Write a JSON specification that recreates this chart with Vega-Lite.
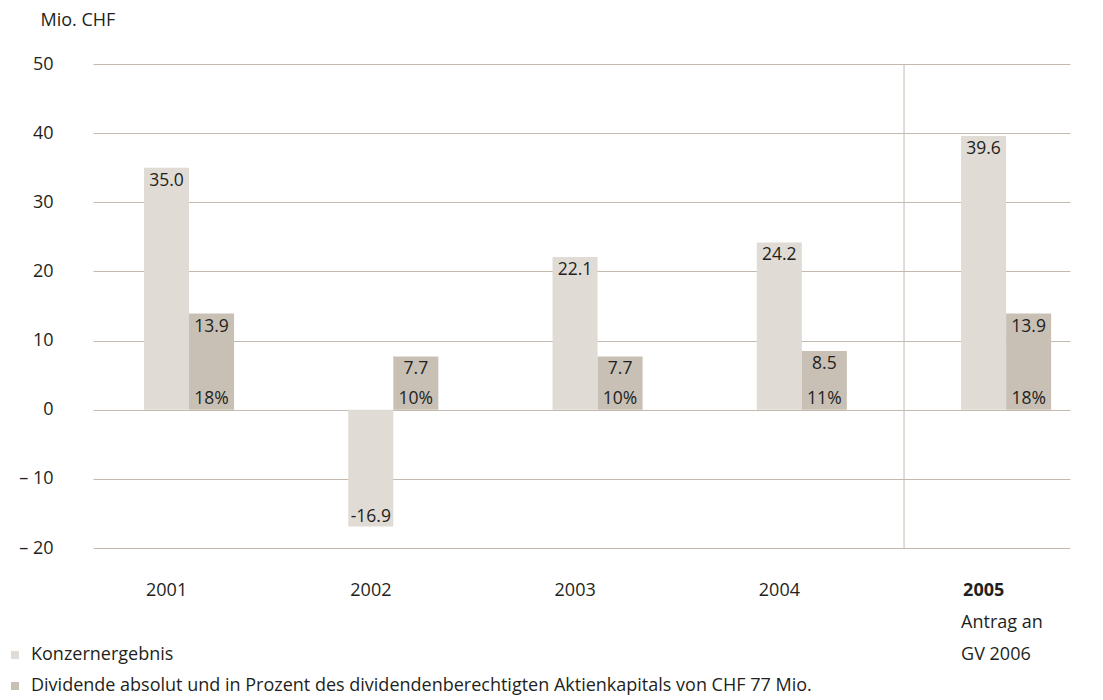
{
  "$schema": "https://vega.github.io/schema/vega-lite/v6.json",
  "width": 977,
  "height": 484,
  "autosize": {"type": "none"},
  "padding": {"left": 93, "top": 64, "right": 33, "bottom": 152},
  "background": "white",
  "config": {
    "view": {"stroke": null},
    "font": "Open Sans",
    "text": {"font": "Open Sans", "fontSize": 17.5, "color": "#231f20"}
  },
  "datasets": {
    "bars": [
      {"year": "2001", "series": "Konzernergebnis", "value": 35.0, "pct": null},
      {"year": "2001", "series": "Dividende absolut und in Prozent des dividendenberechtigten Aktienkapitals von CHF 77 Mio.", "value": 13.9, "pct": "18%"},
      {"year": "2002", "series": "Konzernergebnis", "value": -16.9, "pct": null},
      {"year": "2002", "series": "Dividende absolut und in Prozent des dividendenberechtigten Aktienkapitals von CHF 77 Mio.", "value": 7.7, "pct": "10%"},
      {"year": "2003", "series": "Konzernergebnis", "value": 22.1, "pct": null},
      {"year": "2003", "series": "Dividende absolut und in Prozent des dividendenberechtigten Aktienkapitals von CHF 77 Mio.", "value": 7.7, "pct": "10%"},
      {"year": "2004", "series": "Konzernergebnis", "value": 24.2, "pct": null},
      {"year": "2004", "series": "Dividende absolut und in Prozent des dividendenberechtigten Aktienkapitals von CHF 77 Mio.", "value": 8.5, "pct": "11%"},
      {"year": "2005", "series": "Konzernergebnis", "value": 39.6, "pct": null},
      {"year": "2005", "series": "Dividende absolut und in Prozent des dividendenberechtigten Aktienkapitals von CHF 77 Mio.", "value": 13.9, "pct": "18%"}
    ],
    "note": [
      {"year": "2005", "pos": -30.8, "text": ["Antrag an", "GV 2006"]}
    ]
  },
  "layer": [
    {
      "data": {"name": "bars"},
      "mark": {"type": "bar", "clip": false},
      "encoding": {
        "x": {
          "field": "year", "type": "nominal",
          "scale": {"paddingInner": 0.559, "paddingOuter": 0.171, "align": 0.73},
          "axis": {
            "title": null, "domain": false, "ticks": false, "grid": false,
            "labelAngle": 0, "labelAlign": "left", "labelBaseline": "top", "labelOffset": -43,
            "labelPadding": 33, "labelFontSize": 18, "labelColor": "#231f20", "labelFont": "Open Sans",
            "labelFontWeight": {"condition": {"test": "datum.value == '2005'", "value": "bold"}, "value": "normal"}
          }
        },
        "xOffset": {
          "field": "series", "type": "nominal",
          "sort": ["Konzernergebnis", "Dividende absolut und in Prozent des dividendenberechtigten Aktienkapitals von CHF 77 Mio."],
          "scale": {"paddingInner": 0, "paddingOuter": 0}
        },
        "y": {
          "field": "value", "type": "quantitative",
          "scale": {"domain": [-20, 50], "nice": false, "zero": false},
          "axis": {
            "values": [-20, -10, 0, 10, 20, 30, 40, 50],
            "domain": false, "ticks": false, "grid": true,
            "gridColor": "#c4b9ad", "gridWidth": 1, "gridOpacity": 1,
            "labelPadding": 40, "labelFontSize": 18, "labelColor": "#231f20", "labelFont": "Open Sans",
            "labelExpr": "datum.value < 0 ? '– ' + abs(datum.value) : datum.label",
            "title": "Mio. CHF", "titleAngle": 0, "titleAlign": "left", "titleBaseline": "middle",
            "titleX": -53, "titleY": -44, "titleFontSize": 18, "titleFontWeight": "normal",
            "titleColor": "#231f20", "titleFont": "Open Sans"
          }
        },
        "color": {
          "field": "series", "type": "nominal",
          "scale": {
            "domain": ["Konzernergebnis", "Dividende absolut und in Prozent des dividendenberechtigten Aktienkapitals von CHF 77 Mio."],
            "range": ["#e0dbd5", "#c8c0b5"]
          },
          "legend": {
            "title": null, "orient": "none", "legendX": -87, "legendY": 582,
            "direction": "vertical", "symbolType": "square", "symbolSize": 64,
            "symbolStrokeWidth": 0, "labelFontSize": 18, "labelFont": "Open Sans",
            "labelColor": "#231f20", "labelLimit": 0, "rowPadding": 13, "labelOffset": 7
          }
        }
      }
    },
    {
      "data": {"name": "bars"},
      "mark": {"type": "rule", "color": "#c4b9ad", "strokeWidth": 1},
      "transform": [{"filter": "datum.year == '2005' && datum.series == 'Konzernergebnis'"}],
      "encoding": {
        "x": {"field": "year", "type": "nominal", "bandPosition": -0.633}
      }
    },
    {
      "data": {"name": "bars"},
      "transform": [
        {"filter": "datum.value >= 0"},
        {"calculate": "format(datum.value, '.1f')", "as": "lbl"}
      ],
      "mark": {"type": "text", "baseline": "top", "align": "center", "dy": 4},
      "encoding": {
        "x": {"field": "year", "type": "nominal"},
        "xOffset": {"field": "series", "type": "nominal", "sort": ["Konzernergebnis", "Dividende absolut und in Prozent des dividendenberechtigten Aktienkapitals von CHF 77 Mio."]},
        "y": {"field": "value", "type": "quantitative"},
        "text": {"field": "lbl", "type": "nominal"}
      }
    },
    {
      "data": {"name": "bars"},
      "transform": [
        {"filter": "datum.value < 0"},
        {"calculate": "'-' + format(abs(datum.value), '.1f')", "as": "lbl"}
      ],
      "mark": {"type": "text", "baseline": "bottom", "align": "center", "dy": -1},
      "encoding": {
        "x": {"field": "year", "type": "nominal"},
        "xOffset": {"field": "series", "type": "nominal", "sort": ["Konzernergebnis", "Dividende absolut und in Prozent des dividendenberechtigten Aktienkapitals von CHF 77 Mio."]},
        "y": {"field": "value", "type": "quantitative"},
        "text": {"field": "lbl", "type": "nominal"}
      }
    },
    {
      "data": {"name": "bars"},
      "transform": [{"filter": "datum.pct != null"}],
      "mark": {"type": "text", "baseline": "bottom", "align": "center", "dy": -2},
      "encoding": {
        "x": {"field": "year", "type": "nominal"},
        "xOffset": {"field": "series", "type": "nominal", "sort": ["Konzernergebnis", "Dividende absolut und in Prozent des dividendenberechtigten Aktienkapitals von CHF 77 Mio."]},
        "y": {"datum": 0, "type": "quantitative"},
        "text": {"field": "pct", "type": "nominal"}
      }
    },
    {
      "data": {"name": "note"},
      "mark": {"type": "text", "align": "left", "baseline": "middle", "fontSize": 18, "lineHeight": 32},
      "encoding": {
        "x": {"field": "year", "type": "nominal", "bandPosition": 0},
        "y": {"field": "pos", "type": "quantitative"},
        "text": {"field": "text"}
      }
    }
  ]
}
